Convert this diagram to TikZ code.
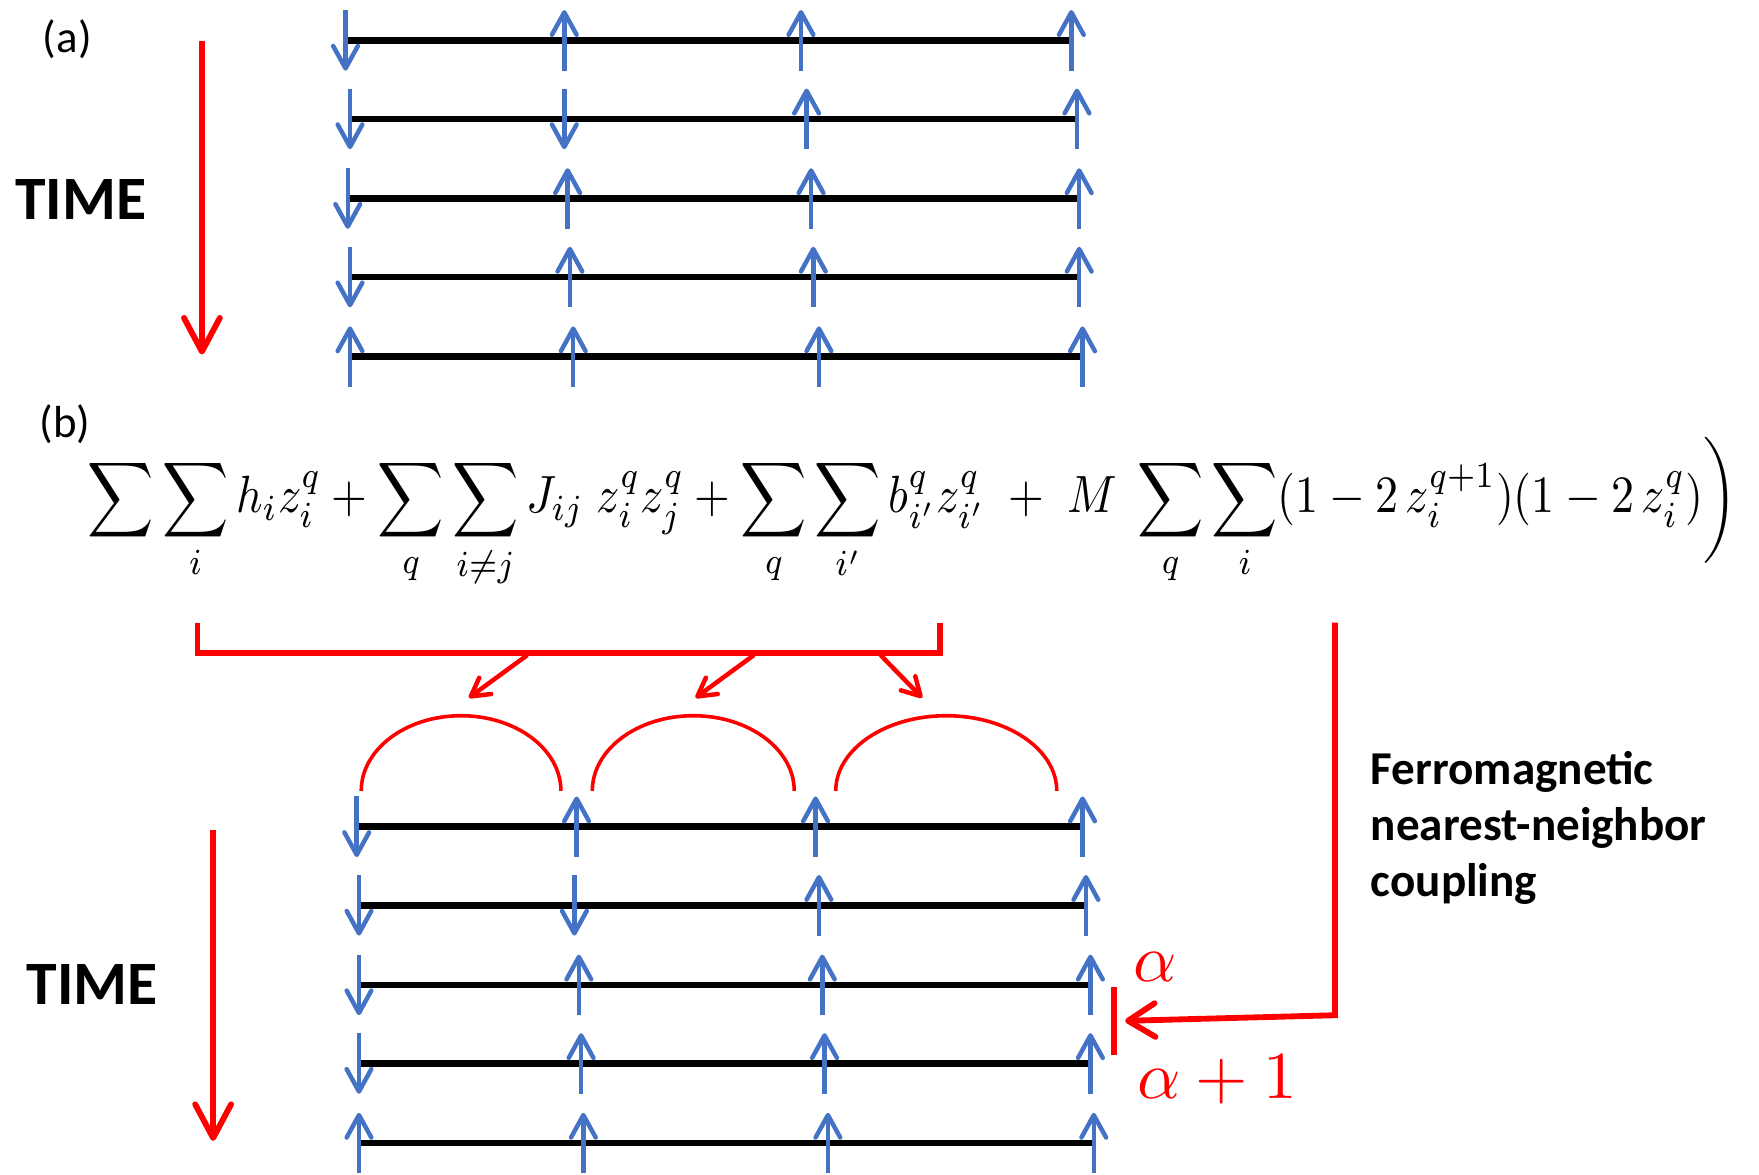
\documentclass[tikz,border=0pt]{standalone}
\usepackage[no-math]{fontspec}
\usepackage{graphicx}
\newfontfamily\calibri{Carlito}
\usetikzlibrary{arrows.meta}
\definecolor{spinblue}{HTML}{4472C4}

\begin{document}
\begin{tikzpicture}[x=0.5pt, y=-0.5pt,
  chain/.style={line width=3pt, black},
  spin/.style={-{Straight Barb[length=10pt, width=11pt, round]}, line width=2pt, spinblue},
  timearrow/.style={-{Straight Barb[length=15pt, width=16pt, round]}, line width=2.6pt, red},
  coupling/.style={line width=2.6pt, red},
  pointer/.style={-{Straight Barb[length=8pt, width=9pt, round]}, line width=2pt, red},
  bond/.style={line width=1.6pt, red},
  panel/.style={font=\calibri\fontsize{20}{22}\selectfont},
  timelabel/.style={font=\calibri\bfseries\fontsize{27.5}{30}\selectfont},
  layer/.style={red},
]
\useasboundingbox (0,0) rectangle (1568,1047);

% === (a) ISING CHAIN IN TIME ===
\node[panel] (la) at (60,35) {(a)};
\node[timelabel] (ta) at (72,178) {TIME};
\coordinate (ta0) at (180,37);
\coordinate (ta1) at (180,316);
\draw[timearrow] (ta0) -- (ta1);

\foreach \y/\xa/\xb/\xc/\xd/\sa/\sb in {36/308/503/714/955/-1/1, 106/312/503/719/960/-1/-1,
  177/310/506/723/962/-1/1, 247/312/508/725/962/-1/1, 318/312/511/730/965/1/1}{
  \draw[chain] (\xa,\y) -- (\xd,\y);
  \draw[spin] (\xa,{\y+27*\sa}) -- (\xa,{\y-27*\sa});
  \draw[spin] (\xb,{\y+27*\sb}) -- (\xb,{\y-27*\sb});
  \draw[spin] (\xc,{\y+27}) -- (\xc,{\y-27});
  \draw[spin] (\xd,{\y+27}) -- (\xd,{\y-27});
}

% === (b) HAMILTONIAN ===
\node[panel] (lb) at (58,378) {(b)};
\node[anchor=west, inner sep=0pt] (ham) at (78,457) {\resizebox*{735pt}{67.5pt}{$\displaystyle
  \sum\sum_{i} h_i z_i^q + \sum_q\sum_{i\neq j} J_{ij}\; z_i^q z_j^q
  + \sum_q\sum_{i'} b_{i'}^q z_{i'}^q \;+\; M\; \sum_q\sum_i (1-2\,z_i^{q+1})(1-2\,z_i^q) \biggr)$}};

% bracket over the first three terms
\coordinate (brL) at (176,555);
\coordinate (brR) at (838,555);
\draw[coupling] (brL) -- (176,582) -- (838,582) -- (brR);
\coordinate (b1) at (470,584);
\coordinate (b2) at (672,584);
\coordinate (b3) at (785,584);
\coordinate (p1) at (418,622);
\coordinate (p2) at (620,622);
\coordinate (p3) at (822,622);
\draw[pointer] (b1) -- (p1);
\draw[pointer] (b2) -- (p2);
\draw[pointer] (b3) -- (p3);

% couplings between neighbouring spins
\draw[bond] (322,705) arc[start angle=180, end angle=0, x radius=44.5pt, y radius=33.5pt];
\draw[bond] (528,705) arc[start angle=180, end angle=0, x radius=45pt, y radius=33.5pt];
\draw[bond] (745,705) arc[start angle=180, end angle=0, x radius=49.25pt, y radius=33.5pt];

% === (b) CHAIN IN TIME ===
\node[timelabel] (tb) at (82,878) {TIME};
\coordinate (tb0) at (190,740);
\coordinate (tb1) at (190,1017);
\draw[timearrow] (tb0) -- (tb1);

\foreach \y/\xa/\xb/\xc/\xd/\sa/\sb in {737/318/514/727/965/-1/1, 807/320/512/730/968/-1/-1,
  878/320/516/733/972/-1/1, 948/320/518/735/972/-1/1, 1019/320/520/738/975/1/1}{
  \draw[chain] (\xa,\y) -- (\xd,\y);
  \draw[spin] (\xa,{\y+27*\sa}) -- (\xa,{\y-27*\sa});
  \draw[spin] (\xb,{\y+27*\sb}) -- (\xb,{\y-27*\sb});
  \draw[spin] (\xc,{\y+27}) -- (\xc,{\y-27});
  \draw[spin] (\xd,{\y+27}) -- (\xd,{\y-27});
}

% ferromagnetic coupling between layers
\coordinate (fmT) at (1190,555);
\coordinate (barT) at (993,880);
\coordinate (barB) at (993,940);
\coordinate (barM) at (1003,910);
\draw[coupling] (barT) -- (barB);
\draw[coupling, -{Straight Barb[length=12pt, width=15pt, round]}] (fmT) -- (1190,905) -- (barM);
\node[layer] (al) at (1030,862) {\scalebox{3}{$\alpha$}};
\node[layer] (al1) at (1085,962) {\scalebox{3}{$\alpha+1$}};
\node[font=\calibri\bfseries\fontsize{21}{25}\selectfont, align=left, anchor=west] (fm) at (1215,738)
  {Ferromagnetic\\nearest-neighbor\\coupling};
\end{tikzpicture}
\end{document}
